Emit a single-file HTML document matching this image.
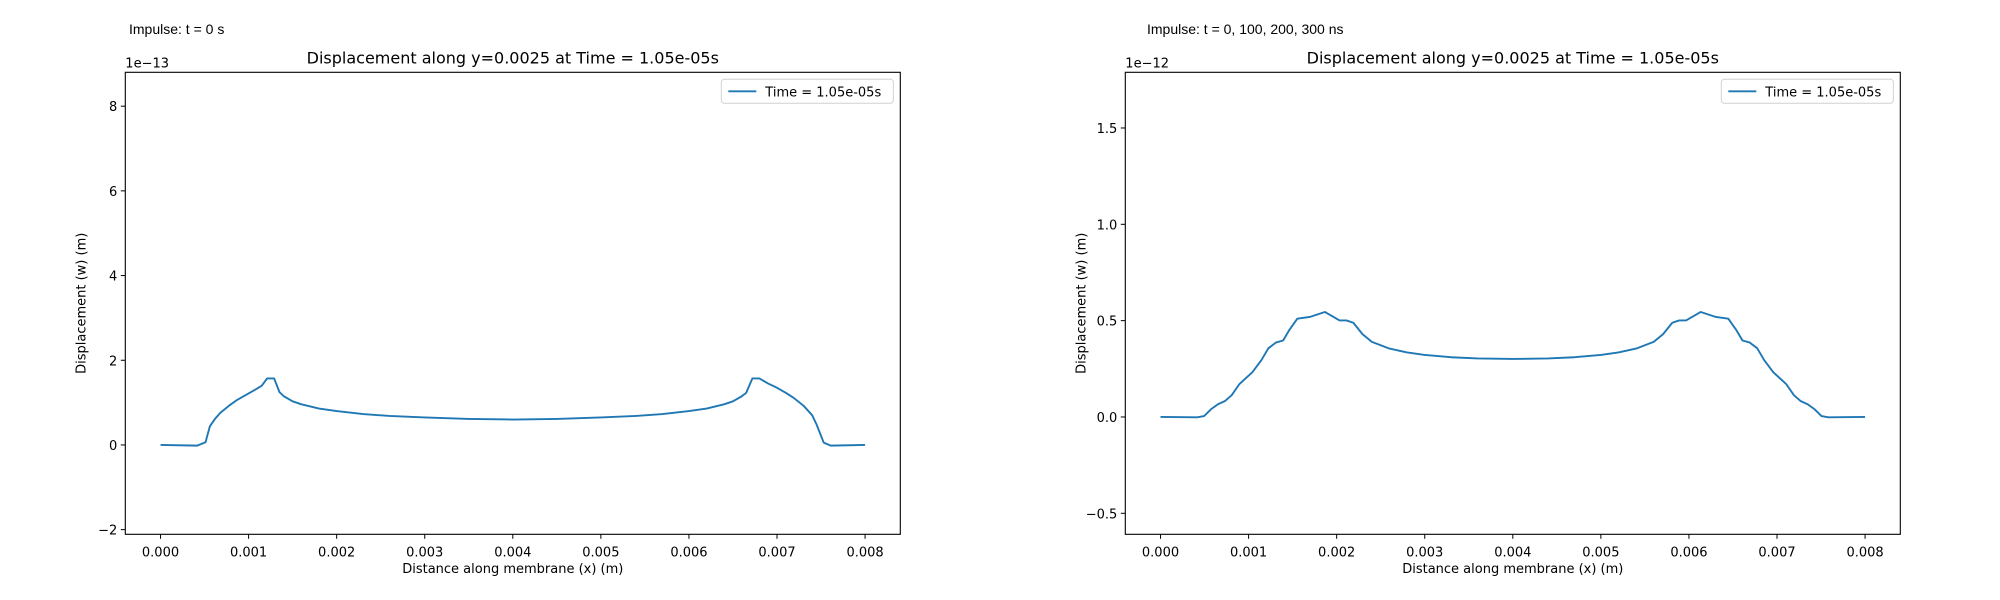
<!DOCTYPE html>
<html><head><meta charset="utf-8"><style>
html,body{margin:0;padding:0;background:#fff;}
svg{display:block;}
text{font-family:"DejaVu Sans","Liberation Sans",sans-serif;fill:#000;}
.imp{font-family:"Liberation Sans",Arial,sans-serif;}
</style></head><body>
<svg id="fig" width="2000" height="600" viewBox="0 0 2000 600" xmlns="http://www.w3.org/2000/svg">
<text class="imp" x="129" y="34" font-size="14">Impulse: t = 0 s</text>
<text class="imp" x="1147" y="34" font-size="14">Impulse: t = 0, 100, 200, 300 ns</text>
</svg>
<script>
// x values in units of 1e-3 m
const leftX = [0,0.417,0.511,0.56,0.62,0.68,0.78,0.86,0.96,1.07,1.15,1.21,1.29,1.35,1.40,1.50,1.60,1.80,2.00,2.30,2.60,3.00,3.50,4.00,4.50,5.00,5.40,5.70,6.00,6.20,6.40,6.50,6.60,6.65,6.72,6.80,6.90,7.00,7.10,7.19,7.30,7.40,7.45,7.53,7.61,8.0];
// displacement in units of 1e-13 m
const leftY = [0,-0.016,0.064,0.44,0.62,0.76,0.93,1.05,1.17,1.30,1.40,1.57,1.57,1.25,1.15,1.03,0.96,0.86,0.80,0.73,0.685,0.65,0.615,0.60,0.615,0.65,0.685,0.73,0.80,0.86,0.96,1.03,1.15,1.23,1.57,1.57,1.45,1.35,1.23,1.11,0.93,0.70,0.48,0.056,-0.016,0];
const rightX = [0,0.417,0.495,0.573,0.652,0.730,0.808,0.896,1.042,1.147,1.225,1.313,1.392,1.459,1.553,1.694,1.866,2.033,2.111,2.189,2.293,2.40,2.60,2.80,3.00,3.30,3.60,4.00,4.40,4.70,5.00,5.20,5.40,5.60,5.707,5.811,5.889,5.967,6.134,6.306,6.447,6.541,6.608,6.687,6.775,6.853,6.958,7.104,7.192,7.270,7.348,7.427,7.505,7.583,8.0];
// displacement in units of 1e-12 m
const rightY = [0,-0.002,0.005,0.040,0.066,0.082,0.113,0.171,0.232,0.296,0.357,0.387,0.397,0.449,0.510,0.519,0.545,0.501,0.501,0.489,0.430,0.39,0.355,0.335,0.322,0.310,0.304,0.301,0.304,0.310,0.322,0.335,0.355,0.39,0.430,0.489,0.501,0.501,0.545,0.519,0.510,0.449,0.397,0.387,0.357,0.296,0.232,0.171,0.113,0.082,0.066,0.040,0.005,-0.002,0];
const xTicks = [0,1,2,3,4,5,6,7,8];
const xTickLabels = ["0.000","0.001","0.002","0.003","0.004","0.005","0.006","0.007","0.008"];
const leftYTicks = [-2,0,2,4,6,8];
const leftYTickLabels = ["\u22122","0","2","4","6","8"];
const rightYTicks = [-0.5,0,0.5,1.0,1.5];
const rightYTickLabels = ["\u22120.5","0.0","0.5","1.0","1.5"];

const NS="http://www.w3.org/2000/svg";
const svg=document.getElementById('fig');
function mk(tag,attrs,parent){const e=document.createElementNS(NS,tag);for(const k in attrs)e.setAttribute(k,attrs[k]);(parent||svg).appendChild(e);return e;}

function panel(p){
  const g=mk('g',{});
  
  
  const L=p.left,T=72.3,W=775,H=462;
  const xs=v=>L+(v-p.xmin)/(p.xmax-p.xmin)*W;
  const ys=v=>T+H-(v-p.ymin)/(p.ymax-p.ymin)*H;
  let d='';
  p.xv.forEach((x,i)=>{d+=(i?'L':'M')+xs(x).toFixed(2)+' '+ys(p.yv[i]).toFixed(2);});
  const line=mk('path',{d:d,fill:'none',stroke:'#1f77b4','stroke-width':1.9,'stroke-linejoin':'round'},g);
  
  
  const fr=mk('rect',{x:L,y:T,width:W,height:H,fill:'none',stroke:'#000','stroke-width':1.1},g);
  
  
  xTicks.forEach((t,i)=>{
    const x=xs(t);
    mk('line',{x1:x,y1:T+H,x2:x,y2:T+H+4.5,stroke:'#000','stroke-width':1},g);
    const tx=mk('text',{x:x,y:T+H+22,'font-size':13,'text-anchor':'middle'},g);
    tx.textContent=xTickLabels[i];
    
    
  });
  p.yt.forEach((t,i)=>{
    const y=ys(t);
    mk('line',{x1:L-4.5,y1:y,x2:L,y2:y,stroke:'#000','stroke-width':1},g);
    const tx=mk('text',{x:L-8,y:y+5,'font-size':13,'text-anchor':'end'},g);
    tx.textContent=p.ytl[i];
    
    
  });
  const off=mk('text',{x:L,y:T-5,'font-size':13},g);
  off.textContent=p.offset;
  
  
  const ti=mk('text',{x:L+W/2,y:T-9,'font-size':16,'text-anchor':'middle'},g);
  ti.textContent='Displacement along y=0.0025 at Time = 1.05e-05s';
  
  
  const xl=mk('text',{x:L+W/2,y:573,'font-size':13,'text-anchor':'middle'},g);
  xl.textContent='Distance along membrane (x) (m)';
  
  
  const yl=mk('text',{x:0,y:0,'font-size':13,'text-anchor':'middle',transform:`translate(${L-40},${T+H/2}) rotate(-90)`},g);
  yl.textContent='Displacement (w) (m)';
  
  
  const lg=mk('g',{},g);
  
  
  const lx=L+W-179,ly=T+7;
  mk('rect',{x:lx,y:ly,width:172,height:24,rx:3,fill:'#fff',stroke:'#d0d0d0','stroke-width':1},lg);
  mk('line',{x1:lx+7,y1:ly+12,x2:lx+35,y2:ly+12,stroke:'#1f77b4','stroke-width':1.9},lg);
  const lt=mk('text',{x:lx+44,y:ly+17,'font-size':13},lg);
  lt.textContent='Time = 1.05e-05s';
  
  
}
panel({name:'left-chart',left:125.3,xmin:-0.4,xmax:8.4,ymin:-2.11,ymax:8.8,xv:leftX,yv:leftY,yt:leftYTicks,ytl:leftYTickLabels,offset:'1e\u221213'});
panel({name:'right-chart',left:1125.3,xmin:-0.4,xmax:8.4,ymin:-0.609,ymax:1.789,xv:rightX,yv:rightY,yt:rightYTicks,ytl:rightYTickLabels,offset:'1e\u221212'});
</script>
</body></html>
